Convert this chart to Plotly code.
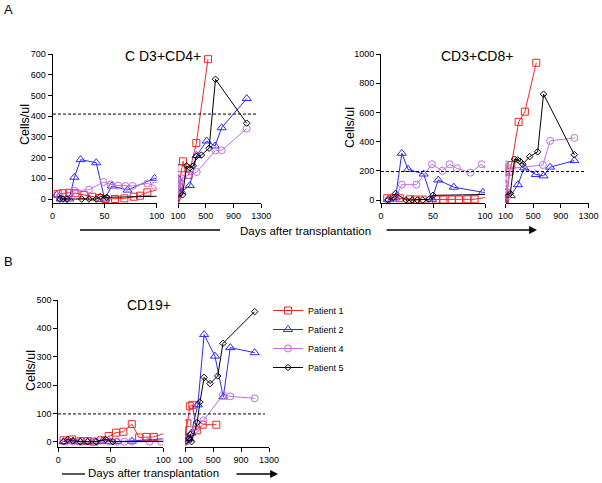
import plotly.graph_objects as go

W, H = 602, 483

def fx(px):
    return px / W

def fy(py):
    return 1 - py / H

# ---------------- DATA (days after transplantation, cells/ul) ----------------
patients = ["Patient 1", "Patient 2", "Patient 4", "Patient 5"]
colors = ["#f02828", "#2b2bf0", "#c070e0", "#000000"]
symbols = ["square-open", "triangle-up-open", "circle-open", "diamond-open"]
msizes = [7, 8, 7, 5]

# CD3+CD4+
cd4_p1_days = [5, 10, 16, 22, 30, 38, 45, 51, 60, 69, 78, 84, 91, 112, 148, 172, 254, 364, 532]
cd4_p1_vals = [25, 28, 30, 28, 19, 11, 5, 0, 0, 3, 11, 16, 32, 60, 148, 182, 116, 270, 675]
cd4_p2_days = [4, 8, 16, 21, 27, 42, 50, 57, 72, 98, 150, 270, 369, 513, 633, 729, 1090]
cd4_p2_vals = [20, 0, 0, 105, 190, 175, 0, 63, 43, 100, 35, 65, 210, 280, 256, 344, 485]
cd4_p4_days = [7, 14, 21, 35, 49, 56, 63, 70, 77, 91, 98, 105, 125, 150, 250, 370, 640, 730, 1090]
cd4_p4_vals = [10, 0, 40, 45, 82, 70, 65, 63, 63, 75, 65, 15, 85, 100, 115, 130, 235, 235, 340]
cd4_p5_days = [7, 10, 14, 28, 35, 42, 46, 52, 165, 225, 270, 320, 365, 437, 548, 640, 1090]
cd4_p5_vals = [0, 0, 0, 0, 0, 0, 12, 8, 20, 160, 150, 160, 205, 212, 245, 578, 366]

# CD3+CD8+
cd8_p1_days = [6, 12, 18, 28, 33, 40, 53, 60, 68, 75, 83, 90, 125, 160, 185, 290, 380, 545]
cd8_p1_vals = [12, 15, 12, 5, 3, 3, 3, 3, 3, 3, 5, 5, 45, 195, 240, 535, 605, 940]
cd8_p2_days = [7, 14, 20, 26, 41, 49, 55, 70, 98, 175, 280, 370, 540, 650, 745, 1095]
cd8_p2_vals = [5, 15, 320, 210, 178, 5, 137, 88, 53, 30, 105, 220, 175, 165, 225, 270]
cd8_p4_days = [7, 14, 20, 34, 49, 59, 66, 73, 86, 97, 120, 150, 640, 745, 1095]
cd8_p4_vals = [0, 15, 105, 105, 245, 200, 245, 217, 187, 245, 30, 215, 240, 405, 425]
cd8_p5_days = [7, 12, 14, 24, 30, 35, 40, 46, 50, 170, 230, 275, 310, 350, 450, 565, 650, 1095]
cd8_p5_vals = [0, 18, 45, 0, 0, 0, 0, 5, 32, 45, 280, 275, 265, 245, 297, 330, 725, 310]

# CD19+
cd19_p1_days = [5, 13, 21, 28, 34, 41, 48, 55, 62, 70, 77, 84, 91, 130, 165, 200, 265, 350, 545]
cd19_p1_vals = [5, 8, 2, 2, 0, 5, 20, 32, 35, 62, 15, 17, 17, 65, 125, 130, 40, 60, 60]
cd19_p2_days = [5, 14, 21, 28, 35, 42, 49, 56, 70, 120, 160, 185, 280, 370, 525, 645, 745, 1095]
cd19_p2_vals = [0, 2, 0, 0, 0, 3, 0, 0, 2, 5, 10, 30, 130, 378, 302, 158, 332, 314]
cd19_p4_days = [7, 14, 21, 35, 49, 56, 63, 70, 87, 98, 110, 160, 250, 360, 640, 745, 1095]
cd19_p4_vals = [0, 0, 0, 0, 0, 0, 0, 0, 0, 0, 0, 10, 45, 75, 165, 160, 153]
cd19_p5_days = [5, 9, 14, 21, 28, 36, 45, 52, 110, 150, 175, 190, 270, 310, 370, 455, 565, 640, 1095]
cd19_p5_vals = [0, 8, 3, 0, 0, 0, 8, 0, 2, 10, 25, 0, 68, 140, 227, 205, 232, 347, 459]

left_ticks = [0, 50, 100]
right_ticks = [100, 500, 900, 1300]
cd4_yticks = [0, 100, 200, 300, 400, 500, 600, 700]
cd8_yticks = [0, 200, 400, 600, 800, 1000]
cd19_yticks = [0, 100, 200, 300, 400, 500]

cd4_threshold = 410
cd8_threshold = 195
cd19_threshold = 98

panels = [
    ("CD4", [(cd4_p1_days, cd4_p1_vals), (cd4_p2_days, cd4_p2_vals),
             (cd4_p4_days, cd4_p4_vals), (cd4_p5_days, cd4_p5_vals)], "x", "x2", "y"),
    ("CD8", [(cd8_p1_days, cd8_p1_vals), (cd8_p2_days, cd8_p2_vals),
             (cd8_p4_days, cd8_p4_vals), (cd8_p5_days, cd8_p5_vals)], "x3", "x4", "y2"),
    ("CD19", [(cd19_p1_days, cd19_p1_vals), (cd19_p2_days, cd19_p2_vals),
              (cd19_p4_days, cd19_p4_vals), (cd19_p5_days, cd19_p5_vals)], "x5", "x6", "y3"),
]

FONT = "Arial, Liberation Sans, sans-serif"

fig = go.Figure()
first = True
for name, series, xl, xr, yy in panels:
    for i, (d, v) in enumerate(series):
        for xa in (xl, xr):
            fig.add_trace(go.Scatter(
                x=d, y=v, xaxis=xa, yaxis=yy, mode="lines+markers",
                name=patients[i], legendgroup=patients[i],
                showlegend=(first and xa == xl),
                line=dict(color=colors[i], width=1),
                marker=dict(symbol=symbols[i], size=msizes[i], color=colors[i],
                            line=dict(width=1, color=colors[i])),
            ))
    first = False

tickfont = dict(family=FONT, size=9, color="black")

def xax(dom, rng, ticks, anchor):
    return dict(domain=[fx(dom[0]), fx(dom[1])], range=rng, tickvals=ticks, anchor=anchor,
                showline=True, linecolor="black", linewidth=1, ticks="outside", ticklen=4,
                tickcolor="black", showgrid=False, zeroline=False, tickfont=tickfont,
                fixedrange=True, automargin=False)

def yax(dom, rng, ticks, anchor):
    return dict(domain=[fy(dom[1]), fy(dom[0])], range=rng, tickvals=ticks, anchor=anchor,
                showline=True, linecolor="black", linewidth=1, ticks="outside", ticklen=4,
                tickcolor="black", showgrid=False, zeroline=False, tickfont=tickfont,
                fixedrange=True, automargin=False)

fig.update_layout(
    width=W, height=H, autosize=False,
    margin=dict(l=0, r=0, t=0, b=0, pad=0, autoexpand=False),
    paper_bgcolor="white", plot_bgcolor="white",
    font=dict(family=FONT, color="black"),
    xaxis=xax((52.5, 156.7), [0, 100], left_ticks, "y"),
    xaxis2=xax((178, 261.3), [100, 1300], right_ticks, "y"),
    yaxis=yax((54, 203), [-19.3, 700], cd4_yticks, "x"),
    xaxis3=xax((381, 485), [0, 100], left_ticks, "y2"),
    xaxis4=xax((505.5, 588.5), [100, 1300], right_ticks, "y2"),
    yaxis2=yax((54, 203), [-20.5, 1000], cd8_yticks, "x3"),
    xaxis5=xax((58.3, 163.3), [0, 100], left_ticks, "y3"),
    xaxis6=xax((185.3, 269), [100, 1300], right_ticks, "y3"),
    yaxis3=yax((300, 447), [-18.7, 500], cd19_yticks, "x5"),
    legend=dict(x=fx(268), y=fy(296), xanchor="left", yanchor="top",
                font=dict(family=FONT, size=9, color="black"),
                bgcolor="rgba(0,0,0,0)", itemwidth=30, tracegroupgap=0),
    showlegend=True,
)

shapes = []
for (x0, x1, yv, yr) in [(53, 258, cd4_threshold, "y"), (381, 586, cd8_threshold, "y2"),
                         (58, 265, cd19_threshold, "y3")]:
    shapes.append(dict(type="line", xref="paper", yref=yr, x0=fx(x0), x1=fx(x1), y0=yv, y1=yv,
                       line=dict(color="black", width=1, dash="3px,2px")))
for (x0, x1, py) in [(80, 220, 230), (62, 85, 474)]:
    shapes.append(dict(type="line", xref="paper", yref="paper", x0=fx(x0), x1=fx(x1),
                       y0=fy(py), y1=fy(py), line=dict(color="black", width=1.3)))
fig.update_layout(shapes=shapes)

ann = []
def txt(t, x, y, size, **kw):
    ann.append(dict(text=t, x=fx(x), y=fy(y), xref="paper", yref="paper", showarrow=False,
                    xanchor="center", yanchor="middle",
                    font=dict(family=FONT, size=size, color="black"), **kw))

txt("A", 8, 9.5, 13)
txt("B", 8.3, 261.7, 13)
txt("C D3+CD4+", 163, 56, 14)
txt("CD3+CD8+", 477, 56, 14)
txt("CD19+", 149, 305, 14)
txt("Cells/ul", 25, 125, 12.5, textangle=-90)
txt("Cells/ul", 350, 128, 12.5, textangle=-90)
txt("Cells/ul", 31, 371, 12.5, textangle=-90)
txt("Days after transplantation", 305, 230.5, 11.5)
txt("Days after transplantation", 153, 472.5, 11.5)

for (x0, x1, py) in [(385, 537, 230), (235, 278, 474)]:
    ann.append(dict(text="", x=fx(x1), y=fy(py), xref="paper", yref="paper", showarrow=True,
                    ax=-(x1 - x0), ay=0, axref="pixel", ayref="pixel",
                    arrowhead=2, arrowsize=1.2, arrowwidth=1.3, arrowcolor="black"))
fig.update_layout(annotations=ann)

fig.write_html("out.html", config={"displayModeBar": False},
               post_script="document.body.style.margin='0px';document.body.style.overflow='hidden';")
